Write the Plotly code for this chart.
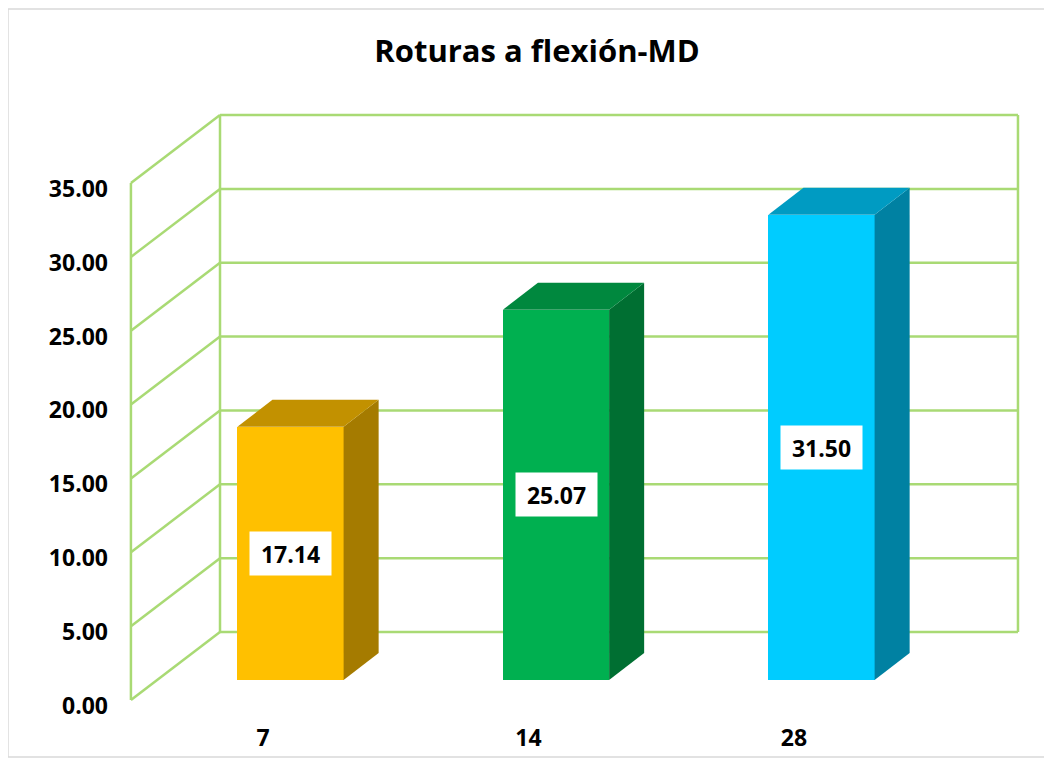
import plotly.graph_objects as go

# ---- data ----
categories = ["7", "14", "28"]
values = [17.14, 25.07, 31.50]
y_ticks = [0, 5, 10, 15, 20, 25, 30, 35]
title = "Roturas a flexión-MD"

front_colors = ["#FFC000", "#00B050", "#00CCFF"]
top_colors = ["#C29100", "#00883E", "#009BC2"]
side_colors = ["#A57B00", "#006F32", "#0081A2"]

# ---- geometry (category units horizontally, value units vertically) ----
BAR_W = 0.40
BAR_DX, BAR_DY = 0.132, 1.83          # bar depth offset
FRONT_X, FRONT_DY = -0.601, -1.354    # front edge of side wall
BACK_X, BACK_DY = -0.2655, 3.25       # back wall left edge
BACK_RIGHT = 2.740
X_RANGE = [-0.6836, 2.7853]
Y_RANGE = [-2.167, 38.93]
LABEL_SHIFT_X = 0.1036
LABEL_SHIFT_Y = 1.74
GRID = "#A9DA74"
FONT = "Open Sans"

xs = list(range(len(categories)))
fig = go.Figure()

# side and top faces
for i, v in zip(xs, values):
    r = i + BAR_W / 2
    l = i - BAR_W / 2
    fig.add_trace(go.Scatter(
        x=[r, r + BAR_DX, r + BAR_DX, r, r], y=[0, BAR_DY, v + BAR_DY, v, 0],
        fill="toself", fillcolor=side_colors[i], mode="none",
        hoverinfo="skip", showlegend=False))
    fig.add_trace(go.Scatter(
        x=[l, r, r + BAR_DX, l + BAR_DX, l], y=[v, v, v + BAR_DY, v + BAR_DY, v],
        fill="toself", fillcolor=top_colors[i], mode="none",
        hoverinfo="skip", showlegend=False))

# front faces
fig.add_trace(go.Bar(
    x=xs, y=values, width=BAR_W, marker=dict(color=front_colors, line=dict(width=0)),
    hoverinfo="skip", showlegend=False))

# dummy trace for label axes
fig.add_trace(go.Scatter(x=[0], y=[0], xaxis="x2", yaxis="y2", mode="markers",
                         marker=dict(opacity=0), hoverinfo="skip", showlegend=False))

# wall lines
shapes = []
for w in y_ticks:
    shapes.append(dict(type="line", xref="x", yref="y", layer="below",
                       x0=BACK_X, x1=BACK_RIGHT, y0=w + BACK_DY, y1=w + BACK_DY,
                       line=dict(color=GRID, width=2.5)))
    shapes.append(dict(type="line", xref="x", yref="y", layer="below",
                       x0=FRONT_X, x1=BACK_X, y0=w + FRONT_DY, y1=w + BACK_DY,
                       line=dict(color=GRID, width=2.5)))
top = y_ticks[-1]
for xv, dy in [(FRONT_X, FRONT_DY), (BACK_X, BACK_DY), (BACK_RIGHT, BACK_DY)]:
    shapes.append(dict(type="line", xref="x", yref="y", layer="below",
                       x0=xv, x1=xv, y0=dy, y1=top + dy,
                       line=dict(color=GRID, width=2.5)))
# chart border
shapes.append(dict(type="rect", xref="paper", yref="paper", layer="below",
                   x0=-0.1097, x1=1.0174, y0=-0.0741, y1=1.1582,
                   line=dict(color="#D9D9D9", width=1.5), fillcolor="rgba(0,0,0,0)"))

# value labels
annotations = []
for i, v in zip(xs, values):
    annotations.append(dict(x=i, y=v / 2, xref="x", yref="y", text=f"<b>{v:.2f}</b>",
                            showarrow=False, bgcolor="white", borderpad=7,
                            width=67, height=29, align="center", valign="middle",
                            font=dict(family=FONT, size=23, color="black")))

fig.update_layout(
    width=1044, height=750,
    margin=dict(l=101, r=22, t=97, b=46, autoexpand=False),
    paper_bgcolor="white", plot_bgcolor="white",
    title=dict(text=f"<b>{title}</b>", x=529 / 1044, xref="container", y=1 - 43 / 750,
               yref="container", xanchor="center", yanchor="middle",
               font=dict(family=FONT, size=31, color="black")),
    xaxis=dict(range=X_RANGE, visible=False, fixedrange=True, automargin=False),
    yaxis=dict(range=Y_RANGE, visible=False, fixedrange=True, automargin=False),
    xaxis2=dict(overlaying="x", side="bottom", automargin=False,
                range=[X_RANGE[0] + LABEL_SHIFT_X, X_RANGE[1] + LABEL_SHIFT_X],
                tickvals=xs, ticktext=[f"<b>{c}</b>" for c in categories],
                showgrid=False, zeroline=False, showline=False,
                ticks="outside", ticklen=5, tickcolor="rgba(0,0,0,0)",
                tickfont=dict(family=FONT, size=23, color="black")),
    yaxis2=dict(overlaying="y", side="left", automargin=False,
                range=[Y_RANGE[0] + LABEL_SHIFT_Y, Y_RANGE[1] + LABEL_SHIFT_Y],
                tickvals=y_ticks, ticktext=[f"<b>{t:.2f}</b>" for t in y_ticks],
                showgrid=False, zeroline=False, showline=False,
                ticks="", tickfont=dict(family=FONT, size=23, color="black")),
    annotations=annotations, shapes=shapes,
    bargap=0,
)

fig.write_html("out.html")
